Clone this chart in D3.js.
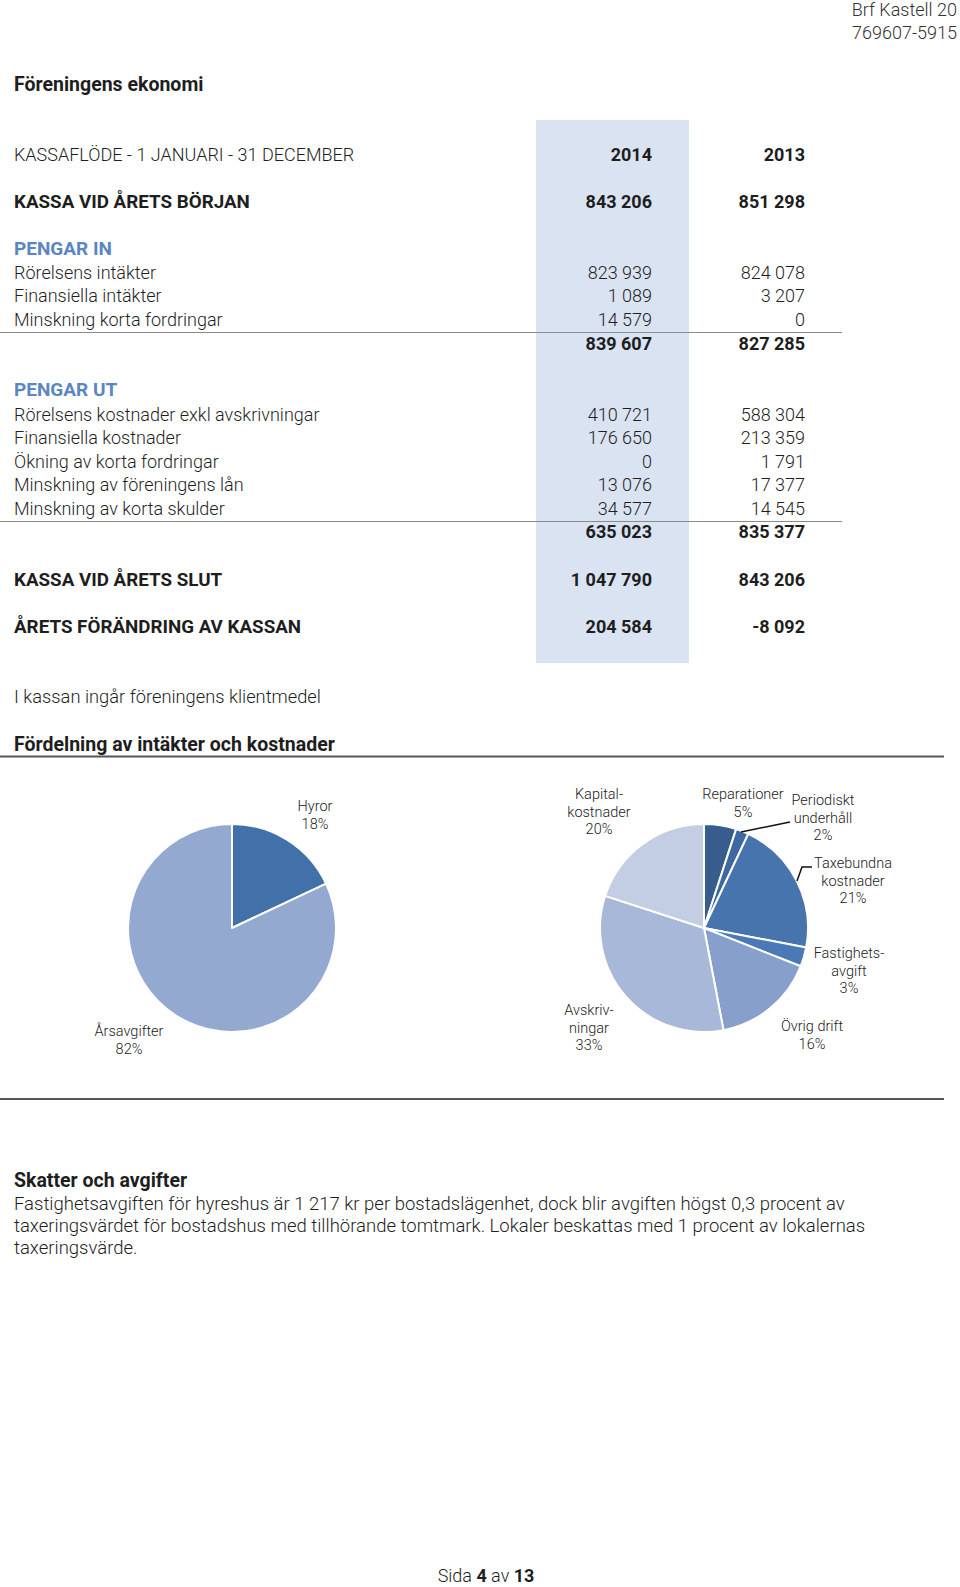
<!DOCTYPE html>
<html><head><meta charset="utf-8">
<script src="https://cdn.jsdelivr.net/npm/d3@7"></script>
<style>
html,body{margin:0;padding:0;background:#fff;}
svg text{font-family:Roboto,"Open Sans",sans-serif;}
</style></head>
<body><svg id="c" width="960" height="1587"></svg>
<script>
// ---------- data ----------
const headerLines = ["Brf Kastell 20", "769607-5915"];
const years = ["2014", "2013"];
const openingLabel = "KASSA VID ÅRETS BÖRJAN";
const opening = [843206, 851298];
const inLabels = ["Rörelsens intäkter", "Finansiella intäkter", "Minskning korta fordringar"];
const in2014 = [823939, 1089, 14579];
const in2013 = [824078, 3207, 0];
const inTotals = [839607, 827285];
const outLabels = ["Rörelsens kostnader exkl avskrivningar", "Finansiella kostnader", "Ökning av korta fordringar", "Minskning av föreningens lån", "Minskning av korta skulder"];
const out2014 = [410721, 176650, 0, 13076, 34577];
const out2013 = [588304, 213359, 1791, 17377, 14545];
const outTotals = [635023, 835377];
const closingLabel = "KASSA VID ÅRETS SLUT";
const closing = [1047790, 843206];
const changeLabel = "ÅRETS FÖRÄNDRING AV KASSAN";
const change = [204584, -8092];

const incomeNames = ["Hyror", "Årsavgifter"];
const incomeValues = [18, 82];
const incomeLabelLines = [["Hyror", "18%"], ["Årsavgifter", "82%"]];
const costNames = ["Reparationer", "Periodiskt underhåll", "Taxebundna kostnader", "Fastighetsavgift", "Övrig drift", "Avskrivningar", "Kapitalkostnader"];
const costValues = [5, 2, 21, 3, 16, 33, 20];
const costLabelLines = [["Reparationer", "5%"], ["Periodiskt", "underhåll", "2%"], ["Taxebundna", "kostnader", "21%"], ["Fastighets-", "avgift", "3%"], ["Övrig drift", "16%"], ["Avskriv-", "ningar", "33%"], ["Kapital-", "kostnader", "20%"]];

const paragraphLines = [
  "Fastighetsavgiften för hyreshus är 1 217 kr per bostadslägenhet, dock blir avgiften högst 0,3 procent av",
  "taxeringsvärdet för bostadshus med tillhörande tomtmark. Lokaler beskattas med 1 procent av lokalernas",
  "taxeringsvärde."
];

// ---------- styling / layout ----------
const svg = d3.select("#c");
const TXT = "#1e1e1e";
const ACCENT = "#5b86c2";
const loc = d3.formatLocale({decimal: ",", thousands: " ", grouping: [3], currency: ["", ""], minus: "-"});
const fmt = loc.format(",d");
const FS = 18;
const BFS = 19.5;
const colX = [652, 805];

function text(x, y, s, o = {}) {
  return svg.append("text").attr("x", x).attr("y", y)
    .attr("font-size", o.size || FS)
    .attr("font-weight", o.weight || 300)
    .attr("fill", o.fill || TXT)
    .attr("text-anchor", o.anchor || "start")
    .text(s);
}

// header
headerLines.forEach((s, i) => text(957, 16 + i * 22.5, s, {anchor: "end", fill: "#333"}));
text(14, 91, "Föreningens ekonomi", {weight: 700, size: BFS});

// highlight band for 2014
svg.append("rect").attr("x", 536).attr("y", 120).attr("width", 153).attr("height", 543).attr("fill", "#dae3f1");

function numRow(y, vals, weight) {
  vals.forEach((v, i) => text(colX[i], y, typeof v === "number" ? fmt(v) : v, {anchor: "end", weight}));
}

text(14, 161, "KASSAFLÖDE - 1 JANUARI - 31 DECEMBER");
numRow(161, years, 700);

text(14, 208, openingLabel, {weight: 700, size: 18.8});
numRow(208, opening, 700);

text(14, 255, "PENGAR IN", {weight: 700, fill: ACCENT, size: 19});
const rowH = 23.4;
inLabels.forEach((l, i) => {
  const y = 279 + i * rowH;
  text(14, y, l);
  numRow(y, [in2014[i], in2013[i]], 300);
});
svg.append("line").attr("x1", 0).attr("x2", 842).attr("y1", 332.5).attr("y2", 332.5).attr("stroke", "#8a8a8a").attr("stroke-width", 1.2);
numRow(350, inTotals, 700);

text(14, 396, "PENGAR UT", {weight: 700, fill: ACCENT, size: 19});
outLabels.forEach((l, i) => {
  const y = 421 + i * rowH;
  text(14, y, l);
  numRow(y, [out2014[i], out2013[i]], 300);
});
svg.append("line").attr("x1", 0).attr("x2", 842).attr("y1", 521.5).attr("y2", 521.5).attr("stroke", "#8a8a8a").attr("stroke-width", 1.2);
numRow(538, outTotals, 700);

text(14, 586, closingLabel, {weight: 700, size: 18.8});
numRow(586, closing, 700);
text(14, 633, changeLabel, {weight: 700, size: 18.8});
numRow(633, change, 700);

text(14, 703, "I kassan ingår föreningens klientmedel", {size: 18.3});
text(14, 751, "Fördelning av intäkter och kostnader", {weight: 700, size: BFS});
svg.append("line").attr("x1", 0).attr("x2", 944).attr("y1", 756.5).attr("y2", 756.5).attr("stroke", "#555").attr("stroke-width", 2);
svg.append("line").attr("x1", 0).attr("x2", 944).attr("y1", 1099).attr("y2", 1099).attr("stroke", "#555").attr("stroke-width", 2);

// ---------- pies ----------
const R = 104;
const pie = d3.pie().sort(null).value(d => d);
const arc = d3.arc().innerRadius(0).outerRadius(R);

const incomeColor = d3.scaleOrdinal().domain(incomeNames).range(["#4270a8", "#93a9cf"]);
const costColor = d3.scaleOrdinal().domain(costNames).range(["#375d8d", "#3e68a0", "#4774ac", "#4a79b5", "#86a0cb", "#a8b8d8", "#c3cee3"]);

function drawPie(cx, cy, names, values, color) {
  const g = svg.append("g").attr("transform", `translate(${cx},${cy})`);
  g.selectAll("path").data(pie(values)).join("path")
    .attr("d", arc)
    .attr("fill", (d, i) => color(names[i]))
    .attr("stroke", "#fff").attr("stroke-width", 2).attr("stroke-linejoin", "round");
  return g;
}
drawPie(232, 928, incomeNames, incomeValues, incomeColor);
drawPie(704, 928, costNames, costValues, costColor);

const LFS = 14.5, LLH = 17.5;
function label(cx, cy, lines) {
  const t = svg.append("text").attr("text-anchor", "middle").attr("font-size", LFS).attr("font-weight", 300).attr("fill", "#222");
  lines.forEach((s, i) => t.append("tspan").attr("x", cx).attr("y", cy + 5 + i * LLH).text(s));
}
const incomeLabelPos = [[315, 806], [129, 1031]];
incomeLabelLines.forEach((l, i) => label(incomeLabelPos[i][0], incomeLabelPos[i][1], l));
const costLabelPos = [[743, 794], [823, 800], [853, 863], [849, 953], [812, 1026], [589, 1010], [599, 794]];
costLabelLines.forEach((l, i) => label(costLabelPos[i][0], costLabelPos[i][1], l));

// leader lines
svg.append("path").attr("d", "M741,832 L790,822").attr("stroke", "#111").attr("stroke-width", 1.5).attr("fill", "none");
svg.append("path").attr("d", "M797,881 L802,867 L812,867").attr("stroke", "#111").attr("stroke-width", 1.5).attr("fill", "none");

// ---------- bottom text ----------
text(14, 1187, "Skatter och avgifter", {weight: 700, size: BFS});
paragraphLines.forEach((s, i) => text(14, 1210 + i * 22, s, {size: 18.5}));

const foot = svg.append("text").attr("x", 486).attr("y", 1582).attr("text-anchor", "middle").attr("font-size", FS).attr("font-weight", 300).attr("fill", TXT);
foot.append("tspan").text("Sida ");
foot.append("tspan").attr("font-weight", 700).text("4");
foot.append("tspan").text(" av ");
foot.append("tspan").attr("font-weight", 700).text("13");
</script></body></html>
